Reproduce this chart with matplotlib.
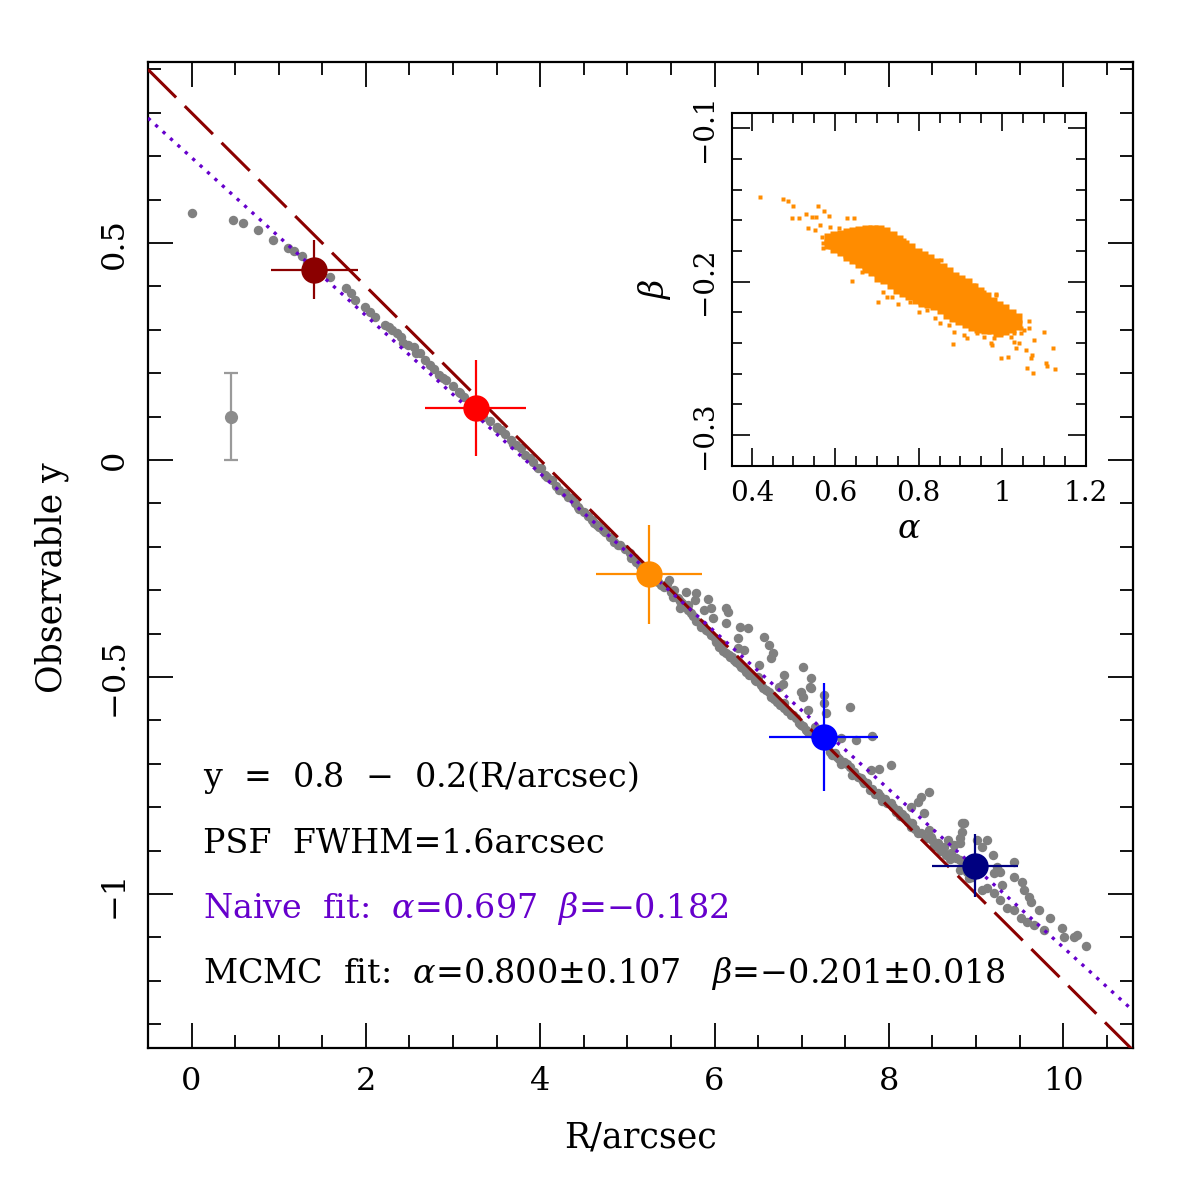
import matplotlib
matplotlib.use("Agg")
import matplotlib.pyplot as plt
from matplotlib.ticker import MultipleLocator, FuncFormatter

plt.rcParams['font.family'] = ['DejaVu Serif']
plt.rcParams['mathtext.fontset'] = 'dejavuserif'

# --- data ---
# gray simulated profile points (R, y)
r_gray = [0.00, 0.47, 0.59, 0.76, 0.94, 1.11, 1.18, 1.27, 1.33, 1.45, 1.59, 1.77, 1.83, 1.88,
          1.99, 2.22, 2.26, 2.36, 2.40, 2.43, 2.55, 2.58, 2.62, 2.73, 2.84, 2.92, 3.00, 3.08,
          3.07, 3.34, 3.50, 3.55, 3.51, 3.67, 3.69, 3.78, 3.82, 3.97, 4.01, 4.05, 4.13, 4.18,
          4.28, 4.36, 4.43, 4.45, 4.59, 4.65, 4.72, 4.74, 4.80, 4.81, 4.89, 4.91, 5.03, 5.04,
          5.08, 5.15, 5.30, 5.35, 5.39, 5.48, 5.54, 5.52, 5.60, 5.60, 5.67, 5.79, 5.69, 5.73,
          5.79, 5.77, 5.85, 5.92, 5.88, 5.96, 5.98, 5.90, 5.96, 6.02, 6.05, 6.13, 6.15, 6.13,
          6.29, 6.38, 6.27, 6.27, 6.34, 6.13, 6.17, 6.20, 6.25, 6.30, 6.36, 6.40, 6.57, 6.63,
          6.67, 6.65, 6.51, 6.50, 6.46, 6.53, 6.59, 6.65, 6.72, 6.80, 6.88, 6.80, 6.78, 6.74,
          7.01, 7.11, 7.09, 6.99, 7.01, 7.07, 7.01, 7.07, 7.11, 7.15, 7.20, 7.26, 7.26, 7.28,
          7.55, 6.80, 6.90, 6.99, 7.05, 7.45, 7.62, 7.81, 7.33, 7.35, 7.41, 7.45, 7.49, 7.55,
          7.60, 7.68, 7.70, 7.75, 7.81, 7.79, 7.89, 8.02, 7.87, 7.90, 7.95, 8.02, 8.05, 8.10,
          8.15, 8.18, 8.25, 8.33, 8.25, 8.33, 8.37, 8.46, 8.40, 8.48, 8.56, 8.63, 8.71, 8.81,
          8.84, 8.84, 8.81, 8.75, 8.18, 8.27, 8.37, 8.46, 8.50, 8.60, 8.68, 8.77, 8.81, 8.86,
          8.82, 8.92, 9.01, 9.13, 9.07, 9.19, 9.24, 9.21, 9.28, 9.07, 9.13, 9.21, 9.30, 9.44,
          9.44, 9.53, 9.55, 9.61, 9.63, 9.28, 9.36, 9.44, 9.51, 9.59, 9.72, 9.66, 9.78, 9.85,
          9.99, 10.01, 10.12, 10.16, 10.26,
          2.05, 2.10, 2.30, 2.48, 2.68, 2.78, 2.88, 3.12, 3.20, 3.42, 3.60, 3.72, 3.88, 3.92,
          4.08, 4.22, 4.32, 4.40, 4.50, 4.55, 4.62, 4.68, 4.85, 4.97, 5.10, 5.20, 5.45, 5.42,
          5.50, 5.58, 5.63, 5.70, 5.75, 5.83, 5.87, 5.93, 6.00, 6.08, 6.10, 6.18, 6.22, 6.28,
          6.33, 6.42, 6.48, 6.56, 6.62, 6.68, 6.75, 6.83, 6.93, 6.97, 7.13, 7.30, 7.38, 7.43,
          7.52, 7.58, 7.64, 7.72, 7.78, 7.84, 7.92, 7.98, 8.08, 8.13, 8.22, 8.30, 8.42, 8.52,
          8.58, 8.66, 8.70, 8.90, 8.95]
y_gray = [0.570, 0.553, 0.547, 0.530, 0.507, 0.488, 0.482, 0.471, 0.455, 0.430, 0.421, 0.396,
          0.386, 0.369, 0.353, 0.311, 0.307, 0.293, 0.284, 0.270, 0.260, 0.246, 0.246, 0.219,
          0.196, 0.184, 0.170, 0.154, 0.157, 0.100, 0.077, 0.069, 0.073, 0.046, 0.038, 0.027,
          0.012, -0.019, -0.018, -0.035, -0.046, -0.061, -0.077, -0.088, -0.108, -0.112,
          -0.138, -0.150, -0.161, -0.165, -0.177, -0.177, -0.196, -0.196, -0.215, -0.226,
          -0.226, -0.245, -0.270, -0.280, -0.288, -0.276, -0.300, -0.315, -0.326, -0.340,
          -0.303, -0.306, -0.334, -0.353, -0.372, -0.322, -0.385, -0.320, -0.346, -0.342,
          -0.365, -0.392, -0.403, -0.419, -0.430, -0.342, -0.350, -0.376, -0.384, -0.386,
          -0.411, -0.434, -0.438, -0.445, -0.449, -0.455, -0.465, -0.476, -0.488, -0.495,
          -0.407, -0.426, -0.445, -0.457, -0.472, -0.499, -0.507, -0.518, -0.530, -0.545,
          -0.557, -0.572, -0.588, -0.495, -0.515, -0.522, -0.476, -0.503, -0.522, -0.534,
          -0.545, -0.576, -0.614, -0.626, -0.526, -0.615, -0.625, -0.541, -0.561, -0.584,
          -0.568, -0.561, -0.588, -0.611, -0.622, -0.641, -0.644, -0.637, -0.672, -0.680,
          -0.684, -0.700, -0.695, -0.707, -0.718, -0.733, -0.740, -0.745, -0.757, -0.714,
          -0.713, -0.703, -0.768, -0.775, -0.780, -0.791, -0.800, -0.806, -0.815, -0.822,
          -0.845, -0.860, -0.799, -0.787, -0.776, -0.764, -0.814, -0.868, -0.883, -0.891,
          -0.906, -0.922, -0.837, -0.856, -0.872, -0.887, -0.826, -0.837, -0.860, -0.853,
          -0.876, -0.902, -0.876, -0.918, -0.945, -0.837, -0.883, -0.964, -0.876, -0.876,
          -0.891, -0.910, -0.937, -0.952, -0.949, -0.991, -0.987, -0.998, -0.979, -0.926,
          -0.960, -0.972, -0.991, -1.006, -1.018, -1.014, -1.033, -1.037, -1.056, -1.064,
          -1.037, -1.071, -1.083, -1.056, -1.079, -1.098, -1.098, -1.094, -1.120,
          0.340, 0.330, 0.300, 0.265, 0.230, 0.210, 0.190, 0.145, 0.130, 0.090, 0.060, 0.035,
          0.005, -0.005, -0.040, -0.070, -0.085, -0.100, -0.120, -0.130, -0.145, -0.155,
          -0.190, -0.205, -0.235, -0.250, -0.285, -0.292, -0.305, -0.318, -0.330, -0.345,
          -0.360, -0.375, -0.380, -0.395, -0.410, -0.425, -0.440, -0.455, -0.460, -0.470,
          -0.480, -0.495, -0.510, -0.525, -0.535, -0.550, -0.565, -0.578, -0.595, -0.605,
          -0.632, -0.660, -0.675, -0.690, -0.700, -0.725, -0.730, -0.745, -0.760, -0.770,
          -0.785, -0.790, -0.810, -0.820, -0.835, -0.850, -0.870, -0.890, -0.895, -0.910,
          -0.920, -0.950, -0.960]

# binned measurements
r_bin = [1.41, 3.26, 5.25, 7.25, 8.99]
y_bin = [0.439, 0.120, -0.263, -0.638, -0.935]
r_bin_err = [0.50, 0.58, 0.61, 0.63, 0.49]
y_bin_err = [0.067, 0.110, 0.114, 0.124, 0.073]
bin_colors = ['#8b0000', '#ff0000', '#ff8c00', '#0000ff', '#000080']

# typical error example
r_example = [0.45]
y_example = [0.10]
y_example_err = [0.10]

# true relation and fits
alpha_true, beta_true = 0.8, -0.2
alpha_naive, beta_naive = 0.697, -0.182
r_line = [-0.5, 10.8]

# MCMC samples (alpha, beta): dense core read column by column, plus outskirts
core_alpha = [0.585, 0.600, 0.615, 0.630, 0.645, 0.660, 0.675, 0.690, 0.705, 0.720, 0.735,
              0.750, 0.765, 0.780, 0.795, 0.810, 0.825, 0.840, 0.855, 0.870, 0.885, 0.900,
              0.915, 0.930, 0.945, 0.960, 0.975, 0.990, 1.005, 1.020, 1.035]
core_beta = [
    [-0.1715, -0.1755],
    [-0.1705, -0.1745, -0.178],
    [-0.1695, -0.1735, -0.178, -0.180],
    [-0.1685, -0.1725, -0.177, -0.1815, -0.183],
    [-0.1675, -0.1715, -0.176, -0.1805, -0.185],
    [-0.167, -0.1715, -0.176, -0.1805, -0.185, -0.188],
    [-0.1665, -0.1705, -0.175, -0.1795, -0.184, -0.1885, -0.191],
    [-0.166, -0.1705, -0.175, -0.1795, -0.184, -0.1885, -0.193],
    [-0.166, -0.1705, -0.175, -0.1795, -0.184, -0.1885, -0.193, -0.197],
    [-0.1675, -0.1715, -0.176, -0.1805, -0.185, -0.1895, -0.194, -0.1985],
    [-0.170, -0.1745, -0.179, -0.1835, -0.188, -0.1925, -0.197, -0.2015],
    [-0.173, -0.1775, -0.182, -0.1865, -0.191, -0.1955, -0.200, -0.2045],
    [-0.176, -0.1805, -0.185, -0.1895, -0.194, -0.1985, -0.203, -0.207],
    [-0.178, -0.1825, -0.187, -0.1915, -0.196, -0.2005, -0.205, -0.209],
    [-0.181, -0.1855, -0.190, -0.1945, -0.199, -0.2035, -0.208, -0.211],
    [-0.183, -0.1875, -0.192, -0.1965, -0.201, -0.2055, -0.210, -0.213],
    [-0.185, -0.1895, -0.194, -0.1985, -0.203, -0.2075, -0.212, -0.214],
    [-0.188, -0.1925, -0.197, -0.2015, -0.206, -0.2105, -0.215],
    [-0.191, -0.1955, -0.200, -0.2045, -0.209, -0.2135, -0.218],
    [-0.194, -0.1985, -0.203, -0.2075, -0.212, -0.2165, -0.221],
    [-0.197, -0.2015, -0.206, -0.2105, -0.215, -0.2195, -0.223],
    [-0.199, -0.2035, -0.208, -0.2125, -0.217, -0.2215, -0.225],
    [-0.201, -0.2055, -0.210, -0.2145, -0.219, -0.2235, -0.227],
    [-0.204, -0.2085, -0.213, -0.2175, -0.222, -0.2265, -0.229],
    [-0.207, -0.2115, -0.216, -0.2205, -0.225, -0.230],
    [-0.210, -0.2145, -0.219, -0.2235, -0.228, -0.231],
    [-0.213, -0.2175, -0.222, -0.2265, -0.231],
    [-0.216, -0.2205, -0.225, -0.2295, -0.233],
    [-0.218, -0.2225, -0.227, -0.2315],
    [-0.221, -0.2255, -0.230],
    [-0.224, -0.228],
]
alpha_out = [0.420, 0.476, 0.486, 0.498, 0.558, 0.574, 0.496, 0.514, 0.530, 0.544, 0.554,
             0.584, 0.628, 0.644, 0.534, 0.552, 0.564, 0.588, 0.608, 0.568, 0.570, 0.570,
             0.588, 0.612, 0.628, 0.640, 0.640, 0.664, 0.680, 0.702, 0.714, 0.724, 0.736,
             0.750, 0.778, 0.800, 0.804, 0.820, 0.854, 0.836, 0.712, 0.724, 0.756, 0.792,
             0.882, 0.896, 0.932, 0.952, 0.984, 0.978, 0.996, 1.012, 1.024, 1.064, 1.044,
             1.052, 1.064, 1.044, 1.028, 1.020, 1.028, 1.032, 0.996, 0.980, 0.972, 0.996,
             1.014, 1.040, 1.056, 1.072, 1.076, 1.100, 1.122, 1.104, 1.108, 1.126, 1.060,
             1.074, 1.070, 0.884, 0.882, 0.908, 0.916, 0.940, 0.956, 0.976, 0.976, 0.956,
             0.872, 0.852, 0.840, 0.956, 0.984, 0.764, 0.780, 0.692, 0.680, 0.708, 0.720,
             0.652, 0.756, 0.768]
beta_out = [-0.1446, -0.1460, -0.1474, -0.1507, -0.1507, -0.1540, -0.1587, -0.1583, -0.1559,
            -0.1576, -0.1580, -0.1570, -0.1587, -0.1583, -0.1652, -0.1663, -0.1630, -0.1646,
            -0.1652, -0.1711, -0.1750, -0.1778, -0.1772, -0.1783, -0.1826, -0.1859, -0.1996,
            -0.1935, -0.1870, -0.2130, -0.2065, -0.2098, -0.2098, -0.2146, -0.2130, -0.2196,
            -0.2141, -0.2185, -0.1859, -0.1902, -0.1663, -0.1674, -0.1815, -0.1826, -0.1967,
            -0.2000, -0.2022, -0.2072, -0.2087, -0.2191, -0.2228, -0.2207, -0.2217, -0.2254,
            -0.2304, -0.2315, -0.2304, -0.2337, -0.2337, -0.2359, -0.2391, -0.2435, -0.2337,
            -0.2370, -0.2402, -0.2500, -0.2493, -0.2402, -0.2446, -0.2478, -0.2380, -0.2326,
            -0.2435, -0.2533, -0.2550, -0.2570, -0.2561, -0.2593, -0.2500, -0.2326, -0.2407,
            -0.2348, -0.2370, -0.2337, -0.2359, -0.2413, -0.2315, -0.2293, -0.2283, -0.2272,
            -0.2239, -0.2065, -0.2080, -0.1728, -0.1772, -0.1674, -0.1674, -0.1652, -0.1670,
            -0.1707, -0.2054, -0.2076]

# --- figure ---
fig = plt.figure(figsize=(11.96, 11.96), dpi=100)
ax = fig.add_axes([0.1237, 0.1237, 0.8236, 0.8244])

ax.plot(r_gray, y_gray, 'o', color='#808080', ms=6.8, mec='none', zorder=2)

ax.plot(r_line, [alpha_true + beta_true * r for r in r_line], color='#8b0000',
        lw=2.2, dashes=[13, 4], zorder=3)
ax.plot(r_line, [alpha_naive + beta_naive * r for r in r_line], color='#6600cc',
        lw=2.4, dashes=[1, 2.0], dash_capstyle='butt', zorder=4)

for r, y, rx, ry, c in zip(r_bin, y_bin, r_bin_err, y_bin_err, bin_colors):
    ax.errorbar(r, y, xerr=rx, yerr=ry, fmt='o', color=c, ms=19, mec='none',
                elinewidth=1.6, capsize=0, zorder=5)

ax.errorbar(r_example, y_example, yerr=y_example_err, fmt='o', color='#8c8c8c',
            ecolor='#9a9a9a', ms=9.5, mec='none', elinewidth=1.6, capsize=5,
            capthick=1.6, zorder=5)

ax.set_xlim(-0.5, 10.8)
ax.set_ylim(-1.355, 0.917)


def tick_fmt(v, pos):
    return ('%g' % round(v, 6)).replace('-', '\u2212')


ax.xaxis.set_major_locator(MultipleLocator(2))
ax.xaxis.set_minor_locator(MultipleLocator(0.5))
ax.yaxis.set_major_locator(MultipleLocator(0.5))
ax.yaxis.set_minor_locator(MultipleLocator(0.1))
ax.xaxis.set_major_formatter(FuncFormatter(tick_fmt))
ax.yaxis.set_major_formatter(FuncFormatter(tick_fmt))
ax.tick_params(which='both', direction='in', top=True, right=True, width=1.3,
               labelsize=23)
ax.tick_params(which='major', length=18, pad=13)
ax.tick_params(which='minor', length=9.5)
ax.tick_params(axis='y', labelrotation=90)
for lab in ax.get_yticklabels():
    lab.set_va('center')
for sp in ax.spines.values():
    sp.set_linewidth(1.6)

ax.set_xlabel('R/arcsec', fontsize=25)
ax.set_ylabel('Observable y', fontsize=25)
ax.xaxis.set_label_coords(0.5, -0.073)
ax.yaxis.set_label_coords(-0.08, 0.477)

txt_kw = dict(transform=ax.transAxes, fontsize=24, va='baseline', ha='left')
ax.text(0.0558, 0.265, r'y  =  0.8  $-$  0.2(R/arcsec)', color='black', **txt_kw)
ax.text(0.0558, 0.198, 'PSF  FWHM=1.6arcsec', color='black', **txt_kw)
ax.text(0.0558, 0.132, r'Naive  fit:  $\alpha$=0.697  $\beta$=$-$0.182', color='#6600cc', **txt_kw)
ax.text(0.0558, 0.066, r'MCMC  fit:  $\alpha$=0.800$\pm$0.107   $\beta$=$-$0.201$\pm$0.018',
        color='black', **txt_kw)

# --- inset with MCMC samples ---
ins = fig.add_axes([0.6118, 0.6106, 0.2960, 0.2952])
for a, bcol in zip(core_alpha, core_beta):
    ins.plot([a] * len(bcol), bcol, 's', color='#ff8c00', ms=6.8, mec='none')
ins.plot(alpha_out, beta_out, 's', color='#ff8c00', ms=2.8, mec='none')
ins.set_xlim(0.352, 1.2)
ins.set_ylim(-0.320, -0.0898)
ins.xaxis.set_major_locator(MultipleLocator(0.2))
ins.xaxis.set_minor_locator(MultipleLocator(0.05))
ins.yaxis.set_major_locator(MultipleLocator(0.1))
ins.yaxis.set_minor_locator(MultipleLocator(0.02))
ins.xaxis.set_major_formatter(FuncFormatter(tick_fmt))
ins.yaxis.set_major_formatter(FuncFormatter(tick_fmt))
ins.tick_params(which='both', direction='in', top=True, right=True, width=1.2,
                labelsize=20)
ins.tick_params(which='major', length=13, pad=10)
ins.tick_params(which='minor', length=7)
ins.tick_params(axis='y', labelrotation=90)
for lab in ins.get_yticklabels():
    lab.set_va('center')
for sp in ins.spines.values():
    sp.set_linewidth(1.5)
ins.set_xlabel(r'$\alpha$', fontsize=24)
ins.set_ylabel(r'$\beta$', fontsize=24)
ins.xaxis.set_label_coords(0.5, -0.135)
ins.yaxis.set_label_coords(-0.165, 0.5)

fig.savefig('out.png', dpi=100)
